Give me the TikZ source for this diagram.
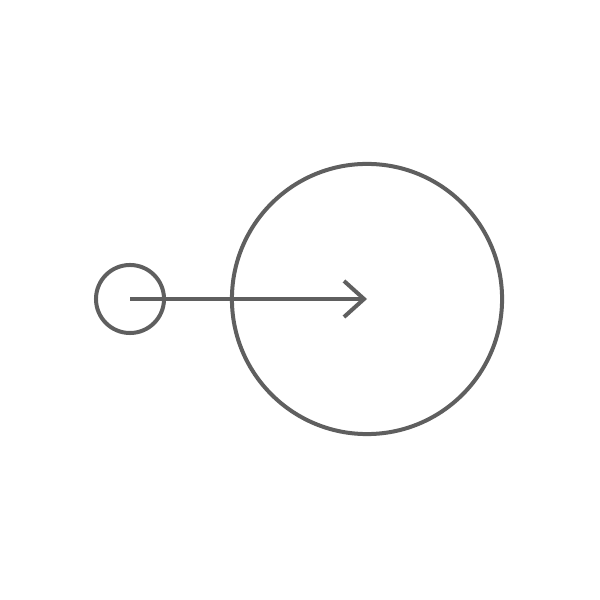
\documentclass[tikz,border=0pt]{standalone}
\usepackage{tikz}
\usetikzlibrary{arrows.meta}
\definecolor{linegray}{HTML}{5F5F5F}

\begin{document}
\begin{tikzpicture}[x=0.01cm,y=0.01cm]
\tikzstyle{every node}+=[inner sep=0pt]
\tikzset{ring/.style={draw=linegray,line width=0.04cm,circle}}
\useasboundingbox (0,0) rectangle (600,600);
\node [ring,minimum size=0.68cm] (small) at (130,301) {};
\node [ring,minimum size=2.70cm] (big) at (367,301) {};
\draw [linegray,line width=0.04cm,-{Straight Barb[length=0.2cm,width=0.36cm]}] (small.center) -- (big.center);
\end{tikzpicture}
\end{document}
